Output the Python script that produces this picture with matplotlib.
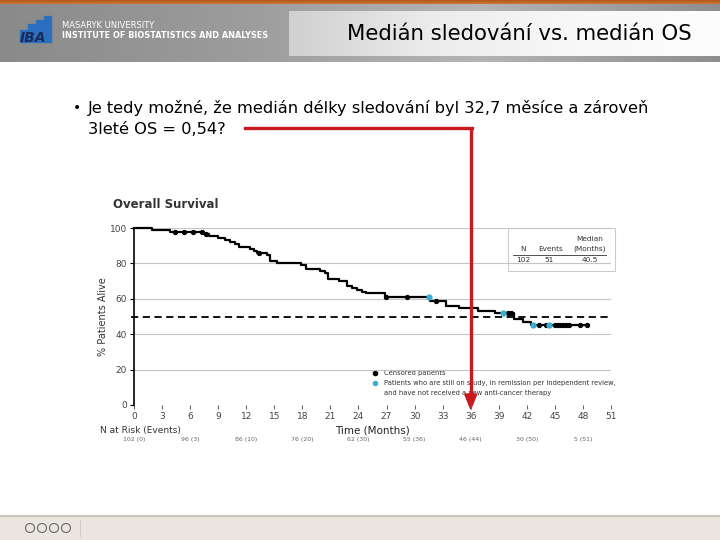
import numpy as np
import matplotlib
matplotlib.use("Agg")
import matplotlib.pyplot as plt
import matplotlib.transforms as mtransforms
from matplotlib.patches import Rectangle, Polygon, Circle

# Kaplan-Meier data
km_time = [0, 1.9, 3.9, 7.5, 8.0, 9.0, 9.7, 10.3, 10.8, 11.2, 12.4, 12.8, 13.2, 14.2,
           14.5, 15.3, 17.9, 18.4, 19.9, 20.4, 20.7, 21.9, 22.8, 23.3, 23.8, 24.4,
           24.8, 26.8, 31.6, 33.4, 34.7, 36.8, 38.6, 40.6, 41.6, 42.4]
km_surv = [100, 98.9, 97.8, 96.6, 95.5, 94.4, 93.3, 92.2, 91.0, 89.0, 87.9, 86.8, 85.7,
           84.6, 81.5, 80.4, 79.3, 76.6, 75.5, 74.4, 71.4, 70.3, 67.4, 66.3, 65.2, 64.1,
           63.2, 61.0, 58.8, 56.0, 54.8, 53.3, 51.8, 48.4, 46.8, 45.2]
km_end = 48.5
censored = [4.4, 5.3, 6.3, 7.3, 7.7, 13.4, 26.9, 29.2, 32.3, 40.0, 40.3, 43.3, 44.0,
            45.0, 45.3, 45.6, 45.9, 46.2, 46.5, 47.7, 48.4]
in_remission = [31.5, 39.4, 42.7, 44.4]

risk_time = [0, 6, 12, 18, 24, 30, 36, 42, 48]
risk_labels = ["102 (0)", "96 (3)", "86 (10)", "76 (20)", "62 (30)",
               "55 (36)", "46 (44)", "30 (50)", "5 (51)"]
x_ticks = list(range(0, 52, 3))
y_ticks = [0, 20, 40, 60, 80, 100]
median_line = 50
marked_month = 36

title = "Medián sledování vs. medián OS"
bullet = ["Je tedy možné, že medián délky sledování byl 32,7 měsíce a zároveň",
          "3leté OS = 0,54?"]

fig = plt.figure(figsize=(7.2, 5.4), dpi=100)
px = mtransforms.Affine2D().scale(1 / 720, -1 / 540).translate(0, 1) + fig.transFigure

# slide background
bg = fig.add_axes([0, 0, 1, 1], zorder=0)
bg.set_xlim(0, 720)
bg.set_ylim(540, 0)
bg.axis("off")

# header
grad = np.linspace(0, 1, 256).reshape(1, -1)
bg.imshow(grad, extent=[0, 720, 62, 4], cmap=matplotlib.colors.LinearSegmentedColormap.from_list(
    "hdr", ["#8a8a8a", "#9c9c9c", "#b4b4b4", "#8e8e8e"]), aspect="auto", zorder=1)
bg.imshow(np.linspace(0, 1, 20).reshape(-1, 1), extent=[0, 720, 4, 0],
          cmap=matplotlib.colors.LinearSegmentedColormap.from_list("or", ["#b4561a", "#c87838"]),
          aspect="auto", zorder=1)
bg.imshow(grad, extent=[289, 720, 56, 11], cmap=matplotlib.colors.LinearSegmentedColormap.from_list(
    "box", ["#d0d0d0", "#ececec", "#f8f8f8", "#fdfdfd"]), aspect="auto", zorder=2)
bg.text(519, 34, title, fontsize=15.3, family="DejaVu Sans", ha="center", va="center",
        color="black", zorder=3)

# logo
for (x0, h) in [(20, 12), (28, 18), (36, 22), (44, 26)]:
    bg.add_patch(Rectangle((x0, 42 - h), 7, h, color="#2a6fc0", zorder=3))
bg.text(33, 38, "IBA", fontsize=10, fontweight="bold", style="italic", color="#1a2a5a",
        ha="center", va="center", zorder=4)
bg.text(62, 25, "MASARYK UNIVERSITY", fontsize=6, color="white", va="center", zorder=3)
bg.text(62, 36, "INSTITUTE OF BIOSTATISTICS AND ANALYSES", fontsize=5.9, color="white",
        fontweight="bold", va="center", zorder=3)

# footer
bg.add_patch(Rectangle((0, 516), 720, 24, color="#ebe7e0", zorder=1))
bg.plot([0, 720], [516, 516], color="#c8c4bc", lw=1.5, zorder=2)
for xc in [30, 42, 54, 66]:
    bg.add_patch(Circle((xc, 528), 4.5, facecolor="none", edgecolor="#666666", lw=0.8, zorder=2))
bg.plot([80, 80], [520, 536], color="#cccccc", lw=0.8)

# bullet
bg.text(77, 108, "•", fontsize=10, va="center", ha="center")
bg.text(88, 108, bullet[0], fontsize=11.7, va="center")
bg.text(88, 130, bullet[1], fontsize=11.7, va="center")

# chart
ax = fig.add_axes([134 / 720, 1 - 405 / 540, 477 / 720, 177 / 540], zorder=2)
ax.patch.set_alpha(0)
ax.set_xlim(0, 51)
ax.set_ylim(0, 100)
for s in ["top", "right", "bottom"]:
    ax.spines[s].set_visible(False)
ax.spines["left"].set_linewidth(1.2)
ax.set_xticks(x_ticks)
ax.set_yticks(y_ticks)
ax.tick_params(axis="both", labelsize=6.5, labelcolor="#444444", length=3, width=0.8, pad=2)
ax.tick_params(axis="x", color="#666666")
for yv in y_ticks[1:]:
    ax.axhline(yv, color="#c4c4c4", lw=0.8, zorder=0)

ax.step(km_time + [km_end], km_surv + [km_surv[-1]], where="post", color="black", lw=1.6,
        zorder=3, clip_on=False)
idx = np.searchsorted(km_time, censored, side="right") - 1
ax.plot(censored, np.array(km_surv)[idx], "o", color="black", ms=2.8, zorder=4)
idx = np.searchsorted(km_time, in_remission, side="right") - 1
ax.plot(in_remission, np.array(km_surv)[idx], "o", color="#3aaed2", ms=3.5, zorder=5)

ax.plot([-0.3, 51], [median_line, median_line], ls=(0, (4, 2.5)), color="black", lw=1.3,
        clip_on=False, zorder=3)

ax.set_ylabel("% Patients Alive", fontsize=7, color="#333333", labelpad=1)
ax.set_xlabel("Time (Months)", fontsize=7.5, color="#222222", labelpad=5)
ax.xaxis.set_label_coords(0.5, -0.115)
ax.set_title("Overall Survival", fontsize=8.5, fontweight="bold", color="#333333",
             loc="left", x=-0.045, y=1.065)

# table box
bg.add_patch(Rectangle((508, 228), 107, 43, facecolor="white", edgecolor="#cccccc", lw=0.8, zorder=3))
tkw = dict(fontsize=5.3, color="#333333", ha="center", va="center", zorder=4)
bg.text(590, 239, "Median", **tkw)
bg.text(590, 249, "(Months)", **tkw)
bg.text(523, 249, "N", **tkw)
bg.text(551, 249, "Events", **tkw)
bg.plot([513, 606], [254.5, 254.5], color="#333333", lw=0.6, zorder=4)
bg.text(523, 260, "102", **tkw)
bg.text(549, 260, "51", **tkw)
bg.text(590, 260, "40.5", **tkw)

# legend
bg.plot([375], [373], "o", color="black", ms=3, zorder=4)
bg.plot([375], [383], "o", color="#3aaed2", ms=3, zorder=4)
lkw = dict(fontsize=4.9, color="#333333", va="center")
bg.text(384, 373, "Censored patients", **lkw)
bg.text(384, 383, "Patients who are still on study, in remission per independent review,", **lkw)
bg.text(384, 393, "and have not received a new anti-cancer therapy", **lkw)

# number at risk
bg.text(100, 430, "N at Risk (Events)", fontsize=6.5, color="#333333", va="center")
risk_tr = mtransforms.blended_transform_factory(ax.transData, px)
for t, lab in zip(risk_time, risk_labels):
    ax.text(t, 439, lab, fontsize=4.5, color="#666666", ha="center", va="center",
            transform=risk_tr)

# red arrow to 36 months
red = "#c8191e"
ax.plot([marked_month, marked_month], [128, 396], color=red, lw=2.4, transform=risk_tr,
        clip_on=False, zorder=6, solid_capstyle="butt")
arr_x = ax.transData.transform((marked_month, 0))[0] * 720 / fig.bbox.width
bg.plot([245, arr_x + 1.2], [128, 128], color=red, lw=2.4, zorder=6)
bg.add_patch(Polygon([[arr_x - 6, 394], [arr_x + 6, 394], [arr_x, 409]], closed=True,
                     color=red, zorder=7))

fig.savefig("out.png", dpi=100)
